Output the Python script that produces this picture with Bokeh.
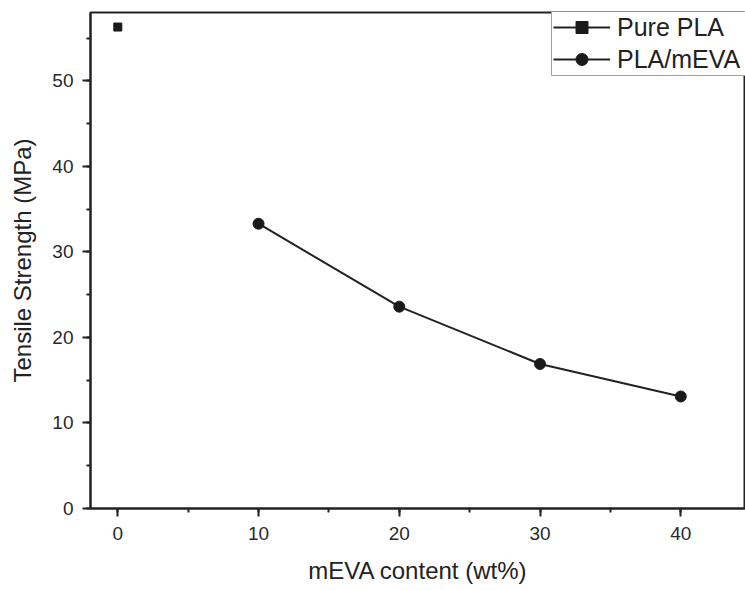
from bokeh.plotting import figure
from bokeh.models import Range1d, SingleIntervalTicker, Legend, LegendItem
from bokeh.embed import file_html
from bokeh.resources import INLINE

# Data
pure_x = [0]
pure_y = [56.3]
blend_x = [10, 20, 30, 40]
blend_y = [33.3, 23.6, 16.9, 13.1]
x_ticks_interval = 10
y_ticks_interval = 10

FONT = "Liberation Sans"
INK = "#1a1a1a"

p = figure(width=745, height=590, output_backend="svg", toolbar_location=None,
           x_range=Range1d(-1.94, 44.6), y_range=Range1d(0, 58),
           min_border_left=90, min_border_right=0, min_border_top=12, min_border_bottom=82)
p.grid.visible = False
p.background_fill_color = "white"
p.border_fill_color = "white"
p.outline_line_color = "#222222"
p.outline_line_width = 2

for ax, interval in ((p.xaxis[0], x_ticks_interval), (p.yaxis[0], y_ticks_interval)):
    ax.ticker = SingleIntervalTicker(interval=interval, num_minor_ticks=2)
    ax.axis_line_color = "#222222"
    ax.axis_line_width = 2
    ax.major_tick_line_color = "#222222"
    ax.major_tick_line_width = 2
    ax.minor_tick_line_color = "#222222"
    ax.minor_tick_line_width = 2
    ax.major_tick_out = 8
    ax.major_tick_in = 0
    ax.minor_tick_out = 4
    ax.minor_tick_in = 0
    ax.major_label_text_font = FONT
    ax.major_label_text_font_size = "19px"
    ax.major_label_text_color = "#2a2a2a"
    ax.axis_label_text_font = FONT
    ax.axis_label_text_font_size = "24px"
    ax.axis_label_text_font_style = "normal"
    ax.axis_label_text_color = "#222222"

p.xaxis.axis_label = "mEVA content (wt%)"
p.yaxis.axis_label = "Tensile Strength (MPa)"
p.xaxis.major_label_standoff = 10
p.xaxis.axis_label_standoff = 14
p.yaxis.major_label_standoff = 9
p.yaxis.axis_label_standoff = 13

# Pure PLA
pl = p.line(pure_x, pure_y, line_color="#222222", line_width=2)
ps = p.scatter(pure_x, pure_y, marker="square", size=8, fill_color=INK, line_color=INK)
# PLA/mEVA
bl = p.line(blend_x, blend_y, line_color="#222222", line_width=2)
bs = p.scatter(blend_x, blend_y, marker="circle", size=11, fill_color=INK, line_color=INK)

legend = Legend(items=[LegendItem(label="Pure PLA", renderers=[pl, ps]),
                       LegendItem(label="PLA/mEVA", renderers=[bl, bs])],
                location=(461, 432))
legend.padding = 1
legend.margin = 0
legend.spacing = 2
legend.glyph_width = 57
legend.glyph_height = 30
legend.label_height = 30
legend.label_width = 150
legend.label_standoff = 7
legend.label_text_font = FONT
legend.label_text_font_size = "25px"
legend.label_text_color = "#222222"
legend.border_line_color = "#444444"
legend.border_line_width = 1
legend.background_fill_color = "white"
legend.background_fill_alpha = 1
p.add_layout(legend)

open("out.html", "w").write(file_html(p, INLINE))
